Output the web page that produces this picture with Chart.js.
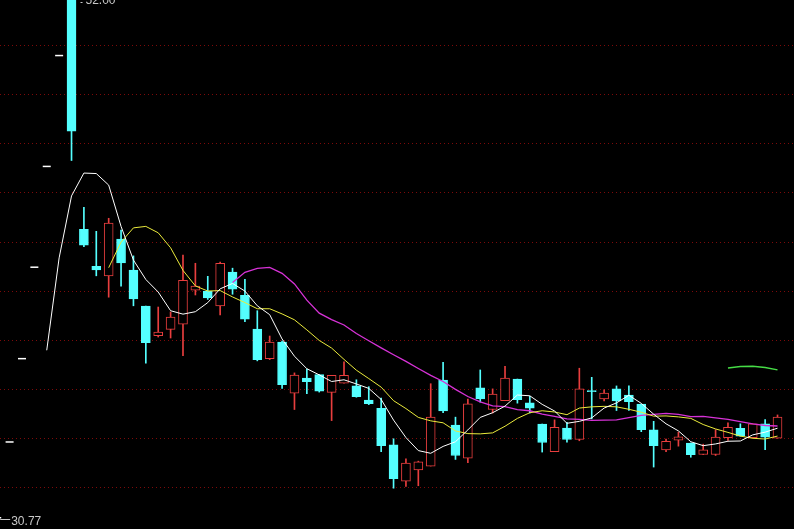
<!DOCTYPE html>
<html>
<head>
<meta charset="utf-8">
<title>K线图</title>
<script src="https://cdn.jsdelivr.net/npm/chart.js@4.4.0/dist/chart.umd.min.js"></script>
<style>
    html, body { margin: 0; padding: 0; background: #000; overflow: hidden; }
    #wrap { width: 794px; height: 529px; }
</style>
</head>
<body>
<div id="wrap"><canvas id="kChart" width="794" height="529"></canvas></div>
<script>
// trading day number of every candle
const days = [1, 2, 3, 4, 5, 6, 7, 8, 9, 10, 11, 12, 13, 14, 15, 16, 17, 18, 19, 20,
    21, 22, 23, 24, 25, 26, 27, 28, 29, 30, 31, 32, 33, 34, 35, 36, 37, 38, 39, 40,
    41, 42, 43, 44, 45, 46, 47, 48, 49, 50, 51, 52, 53, 54, 55, 56, 57, 58, 59, 60,
    61, 62, 63, 64];

// OHLC
const opens = [30.77, 33.85, 37.24, 40.96, 45.06, 49.57,
    52.00, 42.50, 41.00, 40.61, 42.10, 40.84, 39.38, 38.17, 38.43, 38.64,
    40.03, 39.99, 39.38, 40.76, 39.82, 38.44, 37.24, 37.91, 35.84, 36.45,
    36.59, 35.87, 36.24, 36.13, 35.55, 35.22, 33.73, 32.26, 32.71, 32.87,
    36.37, 34.54, 33.19, 36.05, 35.17, 35.53, 36.41, 35.44, 34.58, 33.46,
    34.42, 33.95, 35.93, 35.60, 36.01, 35.76, 35.39, 34.34, 33.53, 33.92,
    33.81, 33.34, 33.34, 34.03, 34.41, 34.03, 34.59, 34.00];
const highs = [30.77, 33.85, 37.24, 40.96, 45.06, 49.57,
    52.00, 43.40, 42.42, 42.95, 42.47, 41.42, 39.38, 39.34, 39.14, 41.45,
    41.12, 40.59, 41.17, 40.92, 40.47, 39.19, 38.16, 37.95, 36.66, 36.82,
    36.59, 36.56, 37.11, 36.38, 36.10, 35.64, 33.98, 33.16, 33.07, 36.22,
    37.09, 34.86, 35.60, 36.78, 36.01, 36.93, 36.41, 35.71, 34.58, 34.75,
    34.65, 36.85, 36.48, 35.97, 36.13, 36.13, 35.39, 34.69, 33.97, 34.25,
    33.81, 33.76, 34.35, 34.63, 34.59, 34.59, 34.76, 34.95];
const lows = [30.77, 33.85, 37.24, 40.96, 45.06, 49.57,
    45.30, 41.80, 40.61, 39.74, 40.19, 39.39, 37.06, 38.12, 38.08, 37.36,
    39.83, 39.65, 39.02, 39.86, 38.74, 37.15, 37.20, 36.03, 35.17, 35.82,
    35.88, 34.72, 36.24, 35.67, 35.37, 33.46, 31.97, 32.04, 32.07, 32.87,
    35.04, 33.14, 33.01, 35.47, 35.03, 35.53, 35.43, 35.03, 33.44, 33.46,
    33.84, 33.90, 34.79, 35.52, 35.13, 35.13, 34.27, 32.83, 33.46, 33.68,
    33.23, 33.34, 33.30, 33.91, 34.09, 34.03, 33.54, 34.00];
const closes = [30.77, 33.85, 37.24, 40.96, 45.06, 49.57,
    46.49, 41.86, 40.85, 42.75, 41.13, 39.67, 37.89, 38.32, 38.93, 40.43,
    40.19, 39.71, 41.12, 40.07, 38.85, 37.20, 37.91, 36.18, 36.57, 36.30,
    35.92, 36.56, 36.56, 35.69, 35.41, 33.70, 32.36, 32.99, 33.04, 34.86,
    35.11, 33.30, 35.40, 35.60, 35.80, 36.45, 35.57, 35.23, 33.83, 34.45,
    33.95, 36.01, 35.90, 35.84, 35.52, 35.49, 34.35, 33.70, 33.88, 34.06,
    33.33, 33.53, 34.05, 34.45, 34.09, 34.59, 34.05, 34.86];

// moving average lines
const ma5 = [null, null, null, null, 37.58, 41.34, 43.86, 44.79, 44.77, 44.30,
    42.62, 41.25, 40.46, 39.95, 39.19, 39.05, 39.15, 39.52, 40.08, 40.30,
    39.99, 39.39, 39.03, 38.04, 37.34, 36.83, 36.58, 36.31, 36.38, 36.21,
    36.03, 35.58, 34.74, 34.03, 33.50, 33.39, 33.67, 33.86, 34.34, 34.85,
    35.04, 35.31, 35.76, 35.73, 35.38, 35.11, 34.61, 34.69, 34.83, 35.23,
    35.44, 35.75, 35.42, 34.98, 34.59, 34.30, 33.86, 33.70, 33.77, 33.88,
    33.89, 34.14, 34.25, 34.41];
const ma10 = [null, null, null, null, null, null, null, null, null, 40.94,
    41.98, 42.56, 42.62, 42.36, 41.75, 40.83, 40.20, 39.99, 40.01, 39.75,
    39.52, 39.27, 39.27, 39.06, 38.82, 38.41, 37.98, 37.67, 37.21, 36.77,
    36.43, 36.08, 35.53, 35.21, 34.85, 34.71, 34.63, 34.30, 34.19, 34.18,
    34.22, 34.49, 34.81, 35.04, 35.12, 35.07, 34.96, 35.23, 35.28, 35.30,
    35.28, 35.18, 35.06, 34.90, 34.91, 34.87, 34.81, 34.56, 34.38, 34.24,
    34.09, 34.00, 33.97, 34.09];
const ma20 = [null, null, null, null, null, null, null, null, null, null,
    null, null, null, null, null, null, null, null, null, 40.34,
    40.75, 40.91, 40.95, 40.71, 40.28, 39.62, 39.09, 38.83, 38.61, 38.26,
    37.97, 37.68, 37.40, 37.13, 36.84, 36.56, 36.31, 35.99, 35.70, 35.48,
    35.32, 35.29, 35.17, 35.12, 34.98, 34.89, 34.79, 34.77, 34.73, 34.74,
    34.75, 34.84, 34.93, 34.97, 35.01, 34.97, 34.88, 34.89, 34.83, 34.77,
    34.68, 34.59, 34.52, 34.50];
const ma60 = [null, null, null, null, null, null, null, null, null, null,
    null, null, null, null, null, null, null, null, null, null,
    null, null, null, null, null, null, null, null, null, null,
    null, null, null, null, null, null, null, null, null, null,
    null, null, null, null, null, null, null, null, null, null,
    null, null, null, null, null, null, null, null, null, 36.86,
    36.92, 36.93, 36.88, 36.78];

// dotted price grid
const gridPrices = [32, 34, 36, 38, 40, 42, 44, 46, 48, 50];

const upColor = 'rgb(232,62,62)';
const downColor = 'rgb(84,255,255)';
const flatColor = '#ffffff';

function candleColor(i) {
    if (highs[i] === lows[i]) return flatColor;
    return closes[i] > opens[i] ? upColor : downColor;
}

const bodyPoints = days.map((d, i) => ({ x: d, y: highs[i] === lows[i] ? null : [opens[i], closes[i]] }));
const wickPoints = days.map((d, i) => ({ x: d, y: highs[i] === lows[i] ? null : [lows[i], highs[i]] }));
const flatPoints = days.map((d, i) => ({ x: d, y: highs[i] === lows[i] ? closes[i] : null }));

function linePoints(arr) {
    return days.map((d, i) => ({ x: d, y: arr[i] }));
}

// black background, grid and the high / low marks
const kPlugin = {
    id: 'kPlugin',
    beforeDraw(chart) {
        const ctx = chart.ctx;
        ctx.save();
        ctx.fillStyle = '#000';
        ctx.fillRect(0, 0, chart.width, chart.height);
        const yScale = chart.scales.y;
        ctx.strokeStyle = 'rgb(125,10,10)';
        ctx.lineWidth = 1;
        ctx.setLineDash([1, 3]);
        gridPrices.forEach(p => {
            const y = Math.round(yScale.getPixelForValue(p)) + 0.5;
            ctx.beginPath();
            ctx.moveTo(0, y);
            ctx.lineTo(chart.width, y);
            ctx.stroke();
        });
        ctx.restore();
    },
    afterDraw(chart) {
        const ctx = chart.ctx;
        const xScale = chart.scales.x;
        const yScale = chart.scales.y;
        const maxHigh = Math.max(...highs);
        const minLow = Math.min(...lows);
        const hi = highs.indexOf(maxHigh);
        const lo = lows.indexOf(minLow);

        ctx.save();
        ctx.font = "12px 'Liberation Sans'";
        ctx.fillStyle = '#c8c8c8';
        ctx.strokeStyle = '#c8c8c8';
        ctx.lineWidth = 1;
        ctx.textBaseline = 'middle';

        let x = xScale.getPixelForValue(days[hi]);
        let y = yScale.getPixelForValue(maxHigh);
        ctx.beginPath();
        ctx.moveTo(x + 9, Math.max(y, 2.5));
        ctx.lineTo(x + 11, Math.max(y, 2.5));
        ctx.stroke();
        ctx.fillText(maxHigh.toFixed(2), x + 14, Math.max(y, 0) + 1);

        x = xScale.getPixelForValue(days[lo]);
        y = Math.round(yScale.getPixelForValue(minLow)) + 1.5;
        ctx.beginPath();
        ctx.moveTo(x + 3, y);
        ctx.lineTo(x + 13, y);
        ctx.stroke();
        ctx.fillText(minLow.toFixed(2), x + 14, y + 2);
        ctx.restore();
    }
};

const ctx = document.getElementById('kChart').getContext('2d');
const chart = new Chart(ctx, {
    type: 'bar',
    data: {
        datasets: [
            {
                type: 'line',
                label: 'MA5',
                data: linePoints(ma5),
                borderColor: '#ffffff',
                borderWidth: 1,
                pointRadius: 0,
                tension: 0,
                order: 0
            },
            {
                type: 'line',
                label: 'MA10',
                data: linePoints(ma10),
                borderColor: 'rgb(235,235,60)',
                borderWidth: 1,
                pointRadius: 0,
                tension: 0,
                order: 0
            },
            {
                type: 'line',
                label: 'MA20',
                data: linePoints(ma20),
                borderColor: 'rgb(215,50,215)',
                borderWidth: 1.3,
                pointRadius: 0,
                tension: 0,
                order: 0
            },
            {
                type: 'line',
                label: 'MA60',
                data: linePoints(ma60),
                borderColor: 'rgb(70,220,70)',
                borderWidth: 1.3,
                pointRadius: 0,
                tension: 0,
                order: 0
            },
            {
                type: 'line',
                label: 'flat',
                data: flatPoints,
                showLine: false,
                pointStyle: 'line',
                pointRadius: 4,
                pointBorderColor: flatColor,
                pointBorderWidth: 1.5,
                order: 1
            },
            {
                label: 'body',
                data: bodyPoints,
                grouped: false,
                barThickness: 9,
                minBarLength: 1,
                borderSkipped: false,
                borderWidth: 1,
                borderColor: days.map((d, i) => candleColor(i)),
                backgroundColor: days.map((d, i) => closes[i] > opens[i] ? '#000000' : candleColor(i)),
                order: 2
            },
            {
                label: 'wick',
                data: wickPoints,
                grouped: false,
                barThickness: 1,
                borderWidth: 0,
                backgroundColor: days.map((d, i) => candleColor(i)),
                order: 3
            }
        ]
    },
    options: {
        responsive: false,
        maintainAspectRatio: false,
        devicePixelRatio: 1,
        animation: false,
        events: [],
        layout: { padding: 0, autoPadding: false },
        plugins: {
            legend: { display: false },
            tooltip: { enabled: false }
        },
        scales: {
            x: {
                type: 'linear',
                display: false,
                offset: false,
                min: 1.226,
                max: 65.331
            },
            y: {
                type: 'linear',
                display: false,
                min: 30.31,
                max: 51.83
            }
        }
    },
    plugins: [kPlugin]
});
</script>
</body>
</html>
